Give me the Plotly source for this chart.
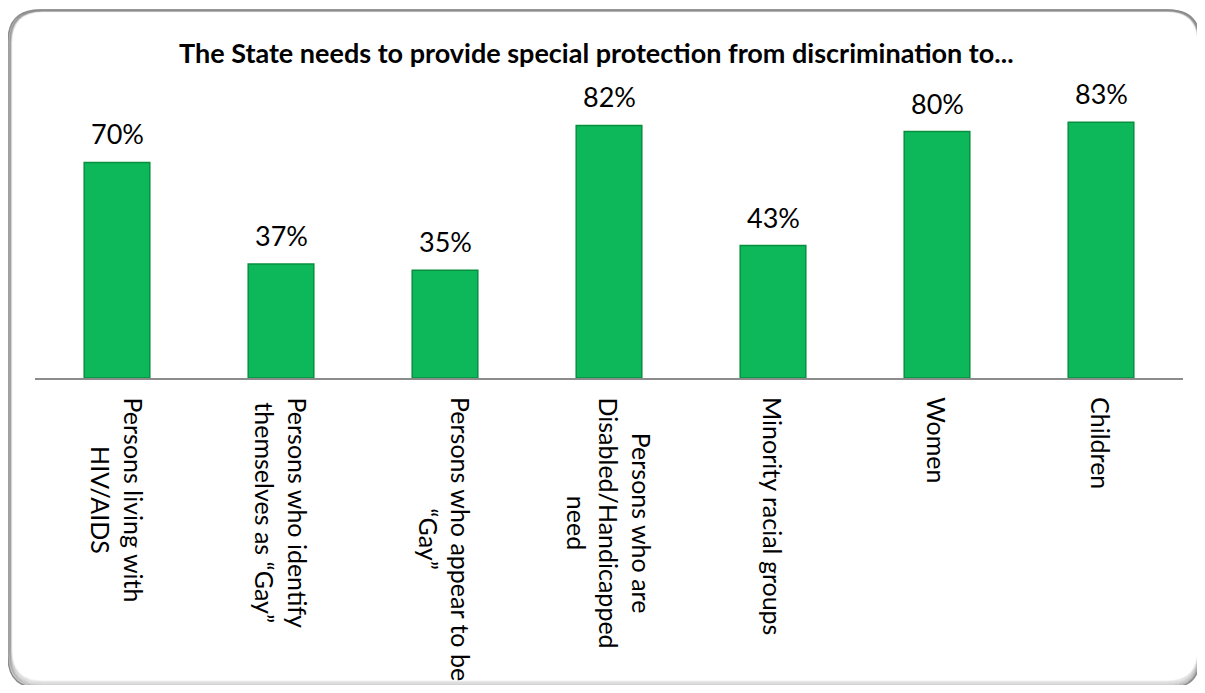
import plotly.graph_objects as go

categories = [
    "Persons living with<br>HIV/AIDS",
    "Persons who identify<br>themselves as “Gay”",
    "Persons who appear to be<br>“Gay”",
    "Persons who are<br>Disabled/Handicapped<br>need",
    "Minority racial groups",
    "Women",
    "Children",
]
values = [0.70, 0.37, 0.35, 0.82, 0.43, 0.80, 0.83]
value_labels = ["70%", "37%", "35%", "82%", "43%", "80%", "83%"]
title_text = "The State needs to provide special protection from discrimination to..."

OFF = 8  # page body margin
W, H = 1205 - 2 * OFF, 693 - 2 * OFF
# plot area in reference (screen) pixels
X0, X1, Y0, Y1 = 35, 1183, 70, 378
ML, MR, MT, MB = X0 - OFF, W - (X1 - OFF), Y0 - OFF, H - (Y1 - OFF)
PW, PH = W - ML - MR, H - MT - MB
FONT = "Lato, Calibri, sans-serif"

def px_x(x):
    return (x - X0) / PW

def px_y(y):
    return (Y1 - y) / PH

def rrect(x0, y0, x1, y1, r):
    p = []
    p.append(f"M {px_x(x0 + r)},{px_y(y0)}")
    p.append(f"L {px_x(x1 - r)},{px_y(y0)}")
    p.append(f"Q {px_x(x1)},{px_y(y0)} {px_x(x1)},{px_y(y0 + r)}")
    p.append(f"L {px_x(x1)},{px_y(y1 - r)}")
    p.append(f"Q {px_x(x1)},{px_y(y1)} {px_x(x1 - r)},{px_y(y1)}")
    p.append(f"L {px_x(x0 + r)},{px_y(y1)}")
    p.append(f"Q {px_x(x0)},{px_y(y1)} {px_x(x0)},{px_y(y1 - r)}")
    p.append(f"L {px_x(x0)},{px_y(y0 + r)}")
    p.append(f"Q {px_x(x0)},{px_y(y0)} {px_x(x0 + r)},{px_y(y0)}")
    p.append("Z")
    return " ".join(p)

fig = go.Figure()
fig.add_trace(go.Bar(
    x=list(range(len(categories))),
    y=values,
    width=0.4,
    marker=dict(color="#0CB85A", line=dict(color="#078F3E", width=1.5)),
    hoverinfo="skip",
))

shapes = []
for i, op in enumerate([0.08, 0.10, 0.13, 0.17, 0.22, 0.30]):
    k = 6 - i
    shapes.append(dict(type="path", xref="paper", yref="paper",
                       path=rrect(9 + k * 0.4, 10 + k * 0.2, 1200 - k * 0.3, 688 - k * 1.1, 32),
                       line=dict(color=f"rgba(90,90,90,{op})", width=2), fillcolor="rgba(0,0,0,0)",
                       layer="below"))
shapes.append(dict(type="path", xref="paper", yref="paper",
                   path=rrect(8, 10, 1200, 688, 32),
                   line=dict(color="#8c8c8c", width=1.5), fillcolor="rgba(0,0,0,0)", layer="below"))

annotations = []
for i, (v, t) in enumerate(zip(values, value_labels)):
    annotations.append(dict(x=i, y=v, xref="x", yref="y", text=t, showarrow=False,
                            yanchor="bottom", yshift=10,
                            font=dict(family=FONT, size=27, color="#000000")))
for i, c in enumerate(categories):
    annotations.append(dict(x=i, y=px_y(395), xref="x", yref="paper", text=c, showarrow=False,
                            textangle=90, yanchor="top", xanchor="center", align="center",
                            font=dict(family=FONT, size=25, color="#000000")))
annotations.append(dict(x=px_x(596), y=px_y(53), xref="paper", yref="paper", text=f"<b>{title_text}</b>",
                        showarrow=False, xanchor="center", yanchor="middle",
                        font=dict(family=FONT, size=27, color="#000000")))

fig.update_layout(
    width=W, height=H,
    margin=dict(l=ML, r=MR, t=MT, b=MB),
    paper_bgcolor="white", plot_bgcolor="white",
    showlegend=False,
    xaxis=dict(range=[-0.5, len(categories) - 0.5], showticklabels=False, showgrid=False, zeroline=False,
               showline=True, linecolor="#8c8c8c", linewidth=1.5, ticks=""),
    yaxis=dict(range=[0, 1], visible=False, showgrid=False, zeroline=False),
    shapes=shapes,
    annotations=annotations,
)

fig.write_html("out.html")
